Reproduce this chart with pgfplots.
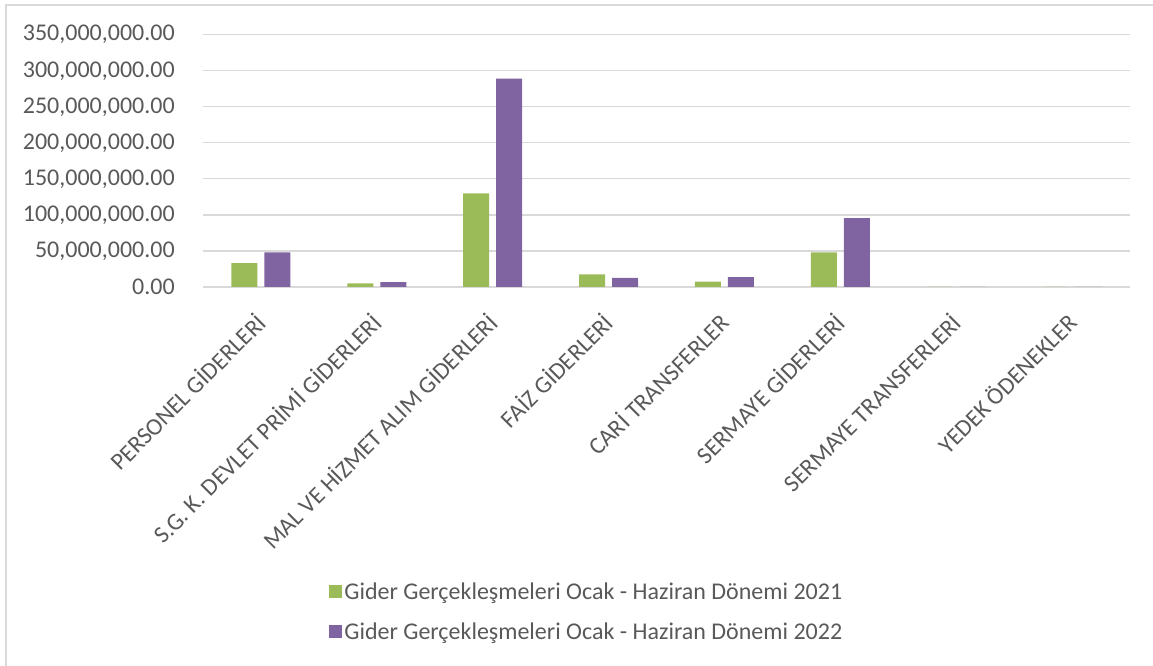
\documentclass[border=0pt]{standalone}
\usepackage{pgfplots}
\pgfplotsset{compat=1.18}
\usepackage{fontspec}
\setmainfont{Carlito}
\definecolor{ggreen}{HTML}{9BBB59}
\definecolor{gpurple}{HTML}{8064A2}
\definecolor{labelgray}{HTML}{595959}
\definecolor{gridgray}{HTML}{D9D9D9}
\begin{document}
\begin{tikzpicture}[font=\fontsize{18}{21.6}\selectfont]
\path[use as bounding box] (-152.25pt,-284.25pt) rectangle (712.5pt,215.25pt);
\draw[gridgray, line width=0.9pt] (-147.75pt,-300pt) -- (-147.75pt,211.5pt) -- (730pt,211.5pt);
\begin{axis}[
  at={(0pt,0pt)}, anchor=south west,
  scale only axis,
  width=695.25pt, height=189.2pt,
  ybar=5.25pt, bar width=19.5pt,
  xmin=-0.5, xmax=7.5, ymin=0, ymax=350000000,
  xtick={0,1,2,3,4,5,6,7},
  xticklabels={PERSONEL GİDERLERİ, S.G. K. DEVLET PRİMİ GİDERLERİ, MAL VE HİZMET ALIM GİDERLERİ, FAİZ GİDERLERİ, CARİ TRANSFERLER, SERMAYE GİDERLERİ, SERMAYE TRANSFERLERİ, YEDEK ÖDENEKLER},
  ytick={0,50000000,100000000,150000000,200000000,250000000,300000000,350000000},
  yticklabels={0.00, {50,000,000.00}, {100,000,000.00}, {150,000,000.00}, {200,000,000.00}, {250,000,000.00}, {300,000,000.00}, {350,000,000.00}},
  scaled y ticks=false,
  /pgf/number format/assume math mode=true,
  axis line style={draw=none},
  tick style={draw=none},
  ymajorgrids, grid style={gridgray, line width=0.9pt},
  tick label style={font=\fontsize{18}{21.6}\selectfont, text=labelgray},
  xticklabel style={anchor=east, rotate=45, inner sep=0pt},
  xticklabel shift=18.75pt,
  yticklabel style={anchor=east, inner sep=0pt},
  yticklabel shift=21pt,
  legend style={at={(axis description cs:0.414,-1.288)}, anchor=center, draw=none, fill=none,
    font=\fontsize{18}{21.6}\selectfont, text=labelgray, row sep=13pt,
    nodes={inner sep=1.5pt}},
  legend cell align=left,
]
\addplot[fill=ggreen, draw=none, legend image code/.code={\fill[ggreen] (0pt,-4.9pt) rectangle (9.75pt,4.9pt);}] coordinates {
 (0,33000000) (1,5000000) (2,130000000) (3,17400000) (4,7300000) (5,48200000) (6,0) (7,0)};
\addplot[fill=gpurple, draw=none, legend image code/.code={\fill[gpurple] (0pt,-4.9pt) rectangle (9.75pt,4.9pt);}] coordinates {
 (0,48200000) (1,6900000) (2,289000000) (3,12800000) (4,13800000) (5,95500000) (6,0) (7,0)};
\legend{Gider Gerçekleşmeleri Ocak - Haziran Dönemi 2021, Gider Gerçekleşmeleri Ocak - Haziran Dönemi 2022}
\end{axis}
\end{tikzpicture}
\end{document}
